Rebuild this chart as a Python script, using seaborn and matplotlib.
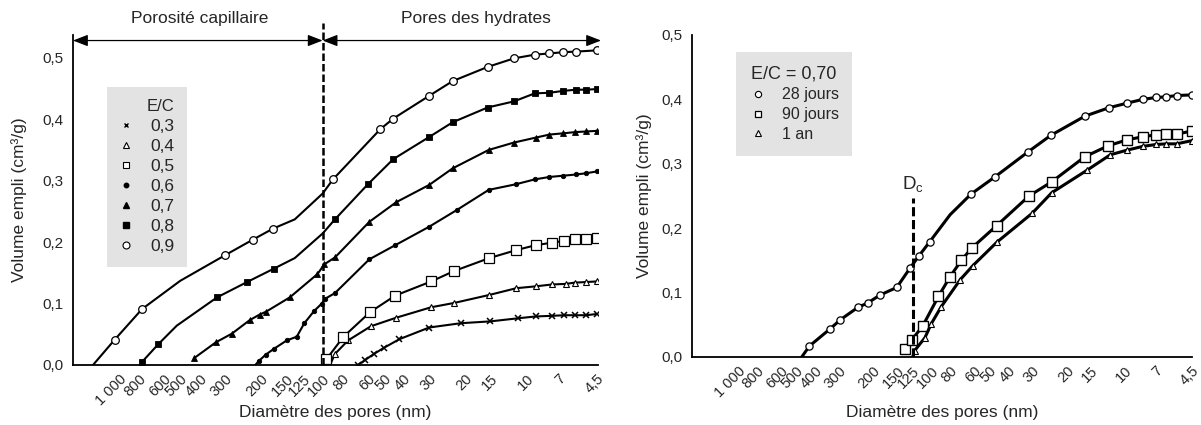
import numpy as np
import pandas as pd
import matplotlib
matplotlib.use("Agg")
import matplotlib.pyplot as plt
from matplotlib.lines import Line2D
from matplotlib.ticker import FixedLocator, NullLocator, MultipleLocator, FixedFormatter
import seaborn as sns

# ---------------- data : left panel (E/C series) ----------------
ec_labels = ["0,3", "0,4", "0,5", "0,6", "0,7", "0,8", "0,9"]

d_03 = [67, 62, 56, 50, 42, 30, 21, 15, 11, 9, 7.5, 6.5, 5.8, 5.1, 4.5]
v_03 = [0.0, 0.008, 0.018, 0.028, 0.042, 0.061, 0.068, 0.071, 0.076, 0.079, 0.080, 0.081, 0.081, 0.081, 0.083]
lo_03 = []

d_04 = [92, 87, 75, 58, 43.5, 29.3, 22.6, 15.2, 11.2, 9.0, 7.5, 6.4, 5.8, 5.1, 4.5]
v_04 = [0.0, 0.018, 0.040, 0.063, 0.077, 0.094, 0.101, 0.114, 0.125, 0.128, 0.131, 0.132, 0.134, 0.135, 0.136]
lo_04 = [0]

d_05 = [96, 79, 58.5, 44, 29.3, 22.6, 15.2, 11.2, 9.0, 7.5, 6.5, 5.8, 5.1, 4.5]
v_05 = [0.009, 0.046, 0.086, 0.113, 0.136, 0.153, 0.174, 0.187, 0.195, 0.199, 0.202, 0.205, 0.205, 0.207]
lo_05 = []

d_06 = [214, 205, 190, 174, 150, 134, 123, 110, 101, 97, 87, 59, 44, 30, 22, 15.3, 11.3, 9.1, 7.7, 6.6, 5.7, 5.1, 4.5]
v_06 = [0.0, 0.007, 0.017, 0.026, 0.040, 0.046, 0.068, 0.088, 0.100, 0.108, 0.117, 0.172, 0.195, 0.225, 0.252, 0.285, 0.294, 0.302, 0.306, 0.308, 0.310, 0.312, 0.315]
lo_06 = [0]

d_07 = [428, 334, 279, 228, 204, 189, 145, 106, 98, 87, 59, 43.5, 30, 23, 15.3, 11.5, 9.0, 7.7, 6.6, 5.75, 5.1, 4.5]
v_07 = [0.011, 0.037, 0.051, 0.073, 0.082, 0.087, 0.110, 0.148, 0.164, 0.175, 0.233, 0.265, 0.293, 0.320, 0.350, 0.362, 0.370, 0.375, 0.377, 0.379, 0.380, 0.381]
lo_07 = []

d_08 = [770, 640, 520, 330, 235, 173, 137, 100, 87, 60, 45, 30, 23, 15.5, 11.5, 9.1, 7.7, 6.6, 5.7, 5.1, 4.5]
v_08 = [0.005, 0.034, 0.064, 0.110, 0.135, 0.157, 0.174, 0.214, 0.237, 0.294, 0.335, 0.371, 0.395, 0.419, 0.429, 0.442, 0.443, 0.446, 0.448, 0.448, 0.449]
lo_08 = [2, 6, 7]

d_09 = [1340, 1050, 770, 500, 300, 220, 175, 137, 100, 89, 52, 45, 30, 23, 15.5, 11.5, 9.1, 7.7, 6.6, 5.7, 4.5]
v_09 = [0.0, 0.041, 0.091, 0.137, 0.179, 0.204, 0.222, 0.237, 0.279, 0.302, 0.384, 0.401, 0.438, 0.462, 0.485, 0.499, 0.505, 0.507, 0.509, 0.510, 0.512]
lo_09 = [0, 3, 7, 8]

# ---------------- data : right panel (E/C = 0,70, ages) ----------------
age_labels = ["28 jours", "90 jours", "1 an"]

d_28 = [468, 427, 336, 295, 240, 213, 185, 151, 129, 116, 102, 80, 62.4, 46.8, 31.5, 24.2, 16.1, 12.1, 9.8, 8.1, 6.9, 6.1, 5.4, 4.5]
v_28 = [0.0, 0.017, 0.043, 0.058, 0.077, 0.084, 0.096, 0.108, 0.138, 0.157, 0.179, 0.221, 0.253, 0.280, 0.319, 0.344, 0.374, 0.387, 0.394, 0.400, 0.403, 0.404, 0.406, 0.407]
lo_28 = [0, 11]

d_90 = [137, 126, 111, 92, 80, 70, 62, 46, 31.3, 23.9, 16.1, 12.2, 9.8, 8.1, 6.9, 6.1, 5.4, 4.5]
v_90 = [0.013, 0.027, 0.048, 0.094, 0.125, 0.150, 0.169, 0.204, 0.250, 0.272, 0.311, 0.328, 0.337, 0.342, 0.345, 0.346, 0.346, 0.351]
lo_90 = []

d_1an = [125, 122, 108, 100, 89, 71, 61, 46, 30.2, 23.9, 15.7, 11.9, 9.8, 8.1, 6.9, 6.1, 5.4, 4.5]
v_1an = [0.0, 0.010, 0.030, 0.052, 0.078, 0.120, 0.142, 0.178, 0.223, 0.255, 0.290, 0.314, 0.321, 0.327, 0.330, 0.331, 0.331, 0.336]
lo_1an = [0]

x_ticks = [1000, 800, 600, 500, 400, 300, 200, 150, 125, 100, 80, 60, 50, 40, 30, 20, 15, 10, 7, 4.5]
x_tick_labels = ["1 000", "800", "600", "500", "400", "300", "200", "150", "125", "100",
                 "80", "60", "50", "40", "30", "20", "15", "10", "7", "4,5"]
y_ticks = [0.0, 0.1, 0.2, 0.3, 0.4, 0.5]
y_tick_labels = ["0,0", "0,1", "0,2", "0,3", "0,4", "0,5"]

# ---------------- style ----------------
sns.set_style("white")
plt.rcParams["font.family"] = ["Liberation Sans", "DejaVu Sans"]
TXT = "#262626"

fig = plt.figure(figsize=(12.01, 4.25), dpi=100)
axL = fig.add_axes([73 / 1201, 60 / 425, 525 / 1201, 330 / 425])
axR = fig.add_axes([692 / 1201, 68 / 425, 500 / 1201, 322 / 425])


def draw(ax, d, v, line_only, marker, ms, mfc, mew, lw):
    df = pd.DataFrame({"d": d, "v": v})
    idx = [i for i in range(len(d)) if i not in line_only]
    sns.lineplot(data=df, x="d", y="v", ax=ax, sort=False, estimator=None,
                 color="black", lw=lw, marker=marker, markersize=ms,
                 markerfacecolor=mfc, markeredgecolor="black",
                 markeredgewidth=mew, markevery=idx, zorder=3)


def style_axis(ax, xlim, ylim):
    ax.set_xscale("log")
    ax.set_xlim(*xlim)
    ax.set_ylim(*ylim)
    for s in ["top", "right"]:
        ax.spines[s].set_visible(False)
    for s in ["left", "bottom"]:
        ax.spines[s].set_color("black")
        ax.spines[s].set_linewidth(1.3)
    ax.xaxis.set_major_locator(FixedLocator(x_ticks))
    ax.xaxis.set_major_formatter(FixedFormatter(x_tick_labels))
    ax.xaxis.set_minor_locator(NullLocator())
    ax.yaxis.set_major_locator(FixedLocator(y_ticks))
    ax.yaxis.set_major_formatter(FixedFormatter(y_tick_labels))
    ax.yaxis.set_minor_locator(MultipleLocator(0.05))
    ax.tick_params(axis="x", which="major", direction="in", length=6, width=1.1,
                   pad=5, labelsize=10.5, labelcolor=TXT, color="black")
    ax.tick_params(axis="y", which="both", direction="in", length=10, width=1.1,
                   pad=7, labelsize=11, labelcolor=TXT, color="black")
    for lab in ax.get_xticklabels():
        lab.set_rotation(45)
        lab.set_ha("right")
        lab.set_rotation_mode("anchor")
    ax.set_xlabel("Diamètre des pores (nm)", fontsize=12.5, color=TXT)
    ax.set_ylabel("Volume empli (cm³/g)", fontsize=12.5, color=TXT)
    ax.grid(False)


# ---------------- left panel ----------------
lwL = 1.5
draw(axL, d_03, v_03, lo_03, "x", 4, "black", 1.1, lwL)
draw(axL, d_04, v_04, lo_04, "^", 5, "white", 0.8, lwL)
draw(axL, d_05, v_05, lo_05, "s", 6.5, "white", 0.9, lwL)
draw(axL, d_06, v_06, lo_06, "o", 3.2, "black", 0.6, lwL)
draw(axL, d_07, v_07, lo_07, "^", 4, "black", 0.6, lwL)
draw(axL, d_08, v_08, lo_08, "s", 4.3, "black", 0.6, lwL)
draw(axL, d_09, v_09, lo_09, "o", 5.5, "white", 0.9, lwL)
style_axis(axL, (1680, 4.45), (0, 0.537))
axL.yaxis.set_label_coords(-0.088, 0.5)
axL.xaxis.set_label_coords(0.5, -0.12)

# separation line and arrows
axL.plot([100, 100], [0, 0.557], ls=(0, (3, 1.2)), lw=1.8, color="black",
         clip_on=False, zorder=4)
arr = dict(arrowstyle="<|-|>,head_length=0.9,head_width=0.35", color="black",
           lw=0.9, shrinkA=0, shrinkB=0, mutation_scale=10)
axL.annotate("", xy=(1680, 0.528), xytext=(100, 0.528), arrowprops=arr,
             annotation_clip=False)
axL.annotate("", xy=(100, 0.528), xytext=(4.3, 0.528), arrowprops=arr,
             annotation_clip=False)
axL.text(0.242, 1.05, "Porosité capillaire", transform=axL.transAxes,
         ha="center", va="center", fontsize=12.5, color=TXT)
axL.text(0.767, 1.05, "Pores des hydrates", transform=axL.transAxes,
         ha="center", va="center", fontsize=12.5, color=TXT)

hL = [
    Line2D([], [], ls="none", marker="x", ms=3.5, mec="black", mew=1.0),
    Line2D([], [], ls="none", marker="^", ms=4.5, mfc="white", mec="black", mew=0.8),
    Line2D([], [], ls="none", marker="s", ms=5, mfc="white", mec="black", mew=0.8),
    Line2D([], [], ls="none", marker="o", ms=3.2, mfc="black", mec="black"),
    Line2D([], [], ls="none", marker="^", ms=4, mfc="black", mec="black"),
    Line2D([], [], ls="none", marker="s", ms=4, mfc="black", mec="black"),
    Line2D([], [], ls="none", marker="o", ms=5, mfc="white", mec="black", mew=0.8),
]
legL = axL.legend(hL, ec_labels, title="E/C", loc="upper left",
                  bbox_to_anchor=(0.065, 0.842), borderaxespad=0,
                  fontsize=12.5, title_fontsize=12, frameon=True,
                  facecolor="#e3e3e3", edgecolor="none", framealpha=1,
                  fancybox=False, handlelength=0.8, handletextpad=1.0,
                  labelspacing=0.28, borderpad=0.7, alignment="right")
for t in legL.get_texts():
    t.set_color(TXT)
legL.get_title().set_color(TXT)

# ---------------- right panel ----------------
lwR = 2.2
draw(axR, d_28, v_28, lo_28, "o", 5.2, "white", 0.9, lwR)
draw(axR, d_90, v_90, lo_90, "s", 7, "white", 1.0, lwR)
draw(axR, d_1an, v_1an, lo_1an, "^", 5, "white", 0.8, lwR)
style_axis(axR, (1727, 4.5), (0, 0.5))
axR.yaxis.set_label_coords(-0.08, 0.5)
axR.xaxis.set_label_coords(0.5, -0.15)

axR.plot([125, 125], [0, 0.247], ls=(0, (3, 1.2)), lw=2.2, color="black", zorder=4)
axR.text(125, 0.268, r"$\mathregular{D_c}$", ha="center", va="center",
         fontsize=13.5, color=TXT)

hR = [
    Line2D([], [], ls="none", marker="o", ms=4.5, mfc="white", mec="black", mew=0.8),
    Line2D([], [], ls="none", marker="s", ms=5, mfc="white", mec="black", mew=0.9),
    Line2D([], [], ls="none", marker="^", ms=4.5, mfc="white", mec="black", mew=0.8),
]
legR = axR.legend(hR, age_labels, title="E/C = 0,70", loc="upper left",
                  bbox_to_anchor=(0.088, 0.947), borderaxespad=0,
                  fontsize=11.5, title_fontsize=13, frameon=True,
                  facecolor="#e3e3e3", edgecolor="none", framealpha=1,
                  fancybox=False, handlelength=1.0, handletextpad=1.0,
                  labelspacing=0.3, borderpad=0.85)
for t in legR.get_texts():
    t.set_color(TXT)
legR.get_title().set_color(TXT)

fig.savefig("out.png", dpi=100, facecolor="white")
